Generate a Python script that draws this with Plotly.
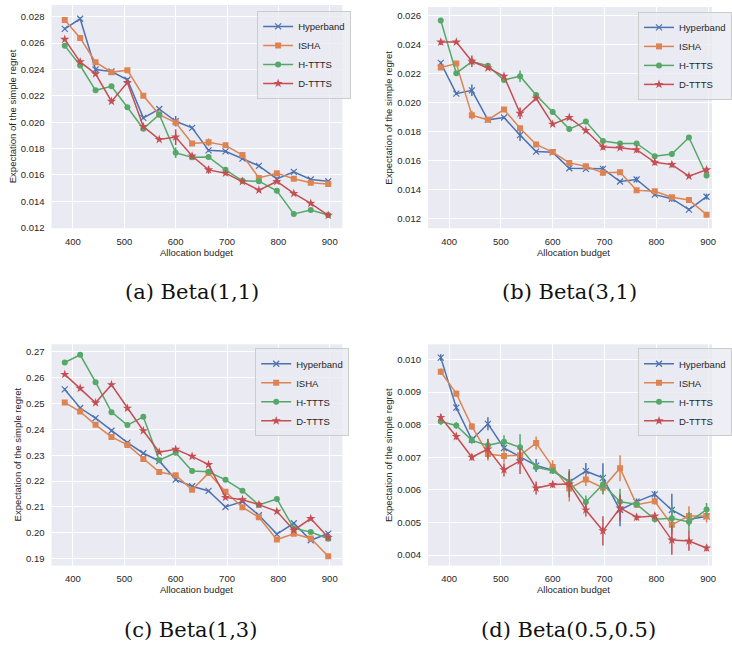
import plotly.graph_objects as go

budget = [384, 414, 444, 475, 506, 537, 568, 600, 632, 664, 697, 730, 762, 797, 830, 863, 897]
methods = ["Hyperband", "ISHA", "H-TTTS", "D-TTTS"]
captions = ["(a) Beta(1,1)", "(b) Beta(3,1)", "(c) Beta(1,3)", "(d) Beta(0.5,0.5)"]

# Panel (a) Beta(1,1)
a_hyperband = [0.02709, 0.02785, 0.02400, 0.02385, 0.02322, 0.02033, 0.02100, 0.02007, 0.01957, 0.01786, 0.01779, 0.01723, 0.01668, 0.01570, 0.01623, 0.01565, 0.01552]
a_isha = [0.02775, 0.02639, 0.02455, 0.02380, 0.02395, 0.02200, 0.02058, 0.01997, 0.01839, 0.01847, 0.01824, 0.01751, 0.01577, 0.01613, 0.01570, 0.01540, 0.01530]
a_httts = [0.02581, 0.02430, 0.02242, 0.02272, 0.02113, 0.01950, 0.02058, 0.01768, 0.01733, 0.01736, 0.01638, 0.01555, 0.01552, 0.01479, 0.01303, 0.01333, 0.01296]
a_dttts = [0.02629, 0.02458, 0.02367, 0.02158, 0.02302, 0.01967, 0.01869, 0.01887, 0.01743, 0.01638, 0.01613, 0.01550, 0.01484, 0.01550, 0.01459, 0.01384, 0.01293]
a_hyperband_err = [0.0001, 0.0001, 0.0001, 0.0001, 0.0001, 0.0001, 0.0001, 0.0004, 0.0001, 0.0001, 0.0001, 0.0001, 0.0001, 0.0001, 0.0001, 0.0001, 0.0001]
a_isha_err = [0.0001, 0.0001, 0.0001, 0.0001, 0.0001, 0.0001, 0.0001, 0.0002, 0.0001, 0.0003, 0.0001, 0.0001, 0.0001, 0.0001, 0.0001, 0.0001, 0.0001]
a_httts_err = [0.0001, 0.0001, 0.0001, 0.0001, 0.0001, 0.0001, 0.0001, 0.0004, 0.0001, 0.0001, 0.0001, 0.0001, 0.0001, 0.0001, 0.0001, 0.0001, 0.0001]
a_dttts_err = [0.0001, 0.0001, 0.0001, 0.0001, 0.0001, 0.0001, 0.0001, 0.0006, 0.0001, 0.0003, 0.0001, 0.0001, 0.0001, 0.0001, 0.0001, 0.0001, 0.0001]

# Panel (b) Beta(3,1)
b_hyperband = [0.02275, 0.02062, 0.02085, 0.01881, 0.01897, 0.01775, 0.01661, 0.01656, 0.01546, 0.01542, 0.01542, 0.01454, 0.01468, 0.01363, 0.01335, 0.01260, 0.01349]
b_isha = [0.02243, 0.02270, 0.01913, 0.01881, 0.01952, 0.01823, 0.01711, 0.01658, 0.01583, 0.01560, 0.01514, 0.01519, 0.01393, 0.01386, 0.01345, 0.01326, 0.01225]
b_httts = [0.02568, 0.02204, 0.02284, 0.02256, 0.02156, 0.02183, 0.02052, 0.01936, 0.01817, 0.01869, 0.01734, 0.01718, 0.01718, 0.01629, 0.01645, 0.01759, 0.01496]
b_dttts = [0.02419, 0.02419, 0.02286, 0.02240, 0.02183, 0.01926, 0.02030, 0.01851, 0.01897, 0.01807, 0.01693, 0.01688, 0.01674, 0.01587, 0.01571, 0.01491, 0.01535]
b_hyperband_err = [0.0001, 0.0001, 0.0004, 0.0001, 0.0001, 0.0004, 0.0001, 0.0001, 0.0001, 0.0001, 0.0002, 0.0001, 0.0002, 0.0001, 0.0002, 0.0001, 0.0002]
b_isha_err = [0.0001, 0.0001, 0.0003, 0.0001, 0.0001, 0.0001, 0.0001, 0.0001, 0.0001, 0.0001, 0.0002, 0.0001, 0.0001, 0.0001, 0.0001, 0.0001, 0.0001]
b_httts_err = [0.0001, 0.0001, 0.0001, 0.0001, 0.0001, 0.0004, 0.0001, 0.0001, 0.0001, 0.0001, 0.0001, 0.0001, 0.0001, 0.0001, 0.0002, 0.0001, 0.0002]
b_dttts_err = [0.0002, 0.0001, 0.0004, 0.0001, 0.0001, 0.0004, 0.0001, 0.0001, 0.0001, 0.0001, 0.0002, 0.0001, 0.0002, 0.0002, 0.0002, 0.0001, 0.0002]

# Panel (c) Beta(1,3)
c_hyperband = [0.2555, 0.2483, 0.2444, 0.2395, 0.2349, 0.2308, 0.2278, 0.2206, 0.2180, 0.2162, 0.2100, 0.2121, 0.2068, 0.1995, 0.2037, 0.1971, 0.1997]
c_isha = [0.2504, 0.2469, 0.2418, 0.2371, 0.2340, 0.2286, 0.2235, 0.2223, 0.2167, 0.2231, 0.2159, 0.2099, 0.2060, 0.1974, 0.1996, 0.1978, 0.1909]
c_httts = [0.2659, 0.2689, 0.2583, 0.2467, 0.2417, 0.2449, 0.2281, 0.2310, 0.2239, 0.2236, 0.2205, 0.2163, 0.2108, 0.2131, 0.2017, 0.2003, 0.1977]
c_dttts = [0.2613, 0.2559, 0.2503, 0.2573, 0.2482, 0.2395, 0.2312, 0.2323, 0.2296, 0.2264, 0.2137, 0.2128, 0.2109, 0.2083, 0.2010, 0.2055, 0.1982]
c_hyperband_err = [0.0005] * 17
c_isha_err = [0.0005] * 17
c_httts_err = [0.0005] * 17
c_dttts_err = [0.0005] * 17

# Panel (d) Beta(0.5,0.5)
d_hyperband = [0.01006, 0.008525, 0.007539, 0.008027, 0.007285, 0.007010, 0.006746, 0.006603, 0.006247, 0.006573, 0.006370, 0.005383, 0.005637, 0.005861, 0.005383, 0.005098, 0.005180]
d_isha = [0.009624, 0.008953, 0.007946, 0.007102, 0.007041, 0.007061, 0.007437, 0.006705, 0.006044, 0.006318, 0.006064, 0.006664, 0.005546, 0.005647, 0.004925, 0.005200, 0.005200]
d_httts = [0.008098, 0.007976, 0.007519, 0.007366, 0.007478, 0.007305, 0.006695, 0.006583, 0.006237, 0.005627, 0.006166, 0.005637, 0.005556, 0.005098, 0.005129, 0.005017, 0.005393]
d_dttts = [0.008220, 0.007640, 0.007000, 0.007254, 0.006613, 0.006888, 0.006054, 0.006166, 0.006176, 0.005383, 0.004742, 0.005444, 0.005159, 0.005200, 0.004457, 0.004427, 0.004213]
d_hyperband_err = [0.0001, 0.0001, 0.0001, 0.0002, 0.0001, 0.0001, 0.0002, 0.0001, 0.0003, 0.00025, 0.00045, 0.0005, 0.0001, 0.0001, 0.0005, 0.0002, 0.0001]
d_isha_err = [0.0001, 0.0001, 0.0001, 0.0002, 0.0002, 0.0002, 0.0002, 0.0002, 0.0004, 0.0002, 0.0002, 0.0004, 0.0001, 0.0001, 0.0003, 0.0003, 0.0002]
d_httts_err = [0.0001, 0.0001, 0.0001, 0.0002, 0.0002, 0.0004, 0.0001, 0.0001, 0.0004, 0.0002, 0.0003, 0.0004, 0.0001, 0.0001, 0.0004, 0.0003, 0.0002]
d_dttts_err = [0.0001, 0.0001, 0.0001, 0.0003, 0.0002, 0.0004, 0.0002, 0.0001, 0.0004, 0.0002, 0.00045, 0.0004, 0.0001, 0.0001, 0.00045, 0.0003, 0.0001]

panels = [
    ([a_hyperband, a_isha, a_httts, a_dttts], [a_hyperband_err, a_isha_err, a_httts_err, a_dttts_err]),
    ([b_hyperband, b_isha, b_httts, b_dttts], [b_hyperband_err, b_isha_err, b_httts_err, b_dttts_err]),
    ([c_hyperband, c_isha, c_httts, c_dttts], [c_hyperband_err, c_isha_err, c_httts_err, c_dttts_err]),
    ([d_hyperband, d_isha, d_httts, d_dttts], [d_hyperband_err, d_isha_err, d_httts_err, d_dttts_err]),
]

colors = ["#4C72B0", "#DD8452", "#55A868", "#C44E52"]
symbols = ["x-thin", "square", "circle", "star"]
msizes = [6, 6, 6, 7]

W, H = 732, 646
def px(x): return x / W
def py(y): return 1 - y / H

# plot-area boxes (left, top, right, bottom) in pixels
boxes = [(53, 5, 352, 230), (440, 7, 732, 230), (53, 347, 352, 570), (440, 347, 732, 570)]
xranges = [[358.3, 924.6], [359.3, 907.5], [358.3, 924.6], [359.3, 907.5]]
yranges = [[0.01195, 0.0289], [0.01131, 0.02662], [0.18731, 0.27295], [0.003675, 0.010468]]
yticks = [
    [0.012, 0.014, 0.016, 0.018, 0.020, 0.022, 0.024, 0.026, 0.028],
    [0.012, 0.014, 0.016, 0.018, 0.020, 0.022, 0.024, 0.026],
    [0.19, 0.20, 0.21, 0.22, 0.23, 0.24, 0.25, 0.26, 0.27],
    [0.004, 0.005, 0.006, 0.007, 0.008, 0.009, 0.010],
]
yfmt = [".3f", ".3f", ".2f", ".3f"]
legend_pos = [(361, 11, "right"), (656, 12, "left"), (359, 351, "right"), (656, 351, "left")]
caption_pos = [(197, 294), (586, 294), (196, 635), (584, 635)]
ytitle_x = [13, 400, 18, 400]

font_family = "Liberation Sans, Arial, sans-serif"
tick_color = "#262626"

fig = go.Figure()
layout = dict(
    width=W, height=H,
    margin=dict(l=0, r=0, t=0, b=0),
    paper_bgcolor="white",
    plot_bgcolor="#EAEAF2",
    font=dict(family=font_family, size=9.5, color=tick_color),
    annotations=[],
)

for p, (series, errs) in enumerate(panels):
    n = p + 1
    xa = "x" if n == 1 else f"x{n}"
    ya = "y" if n == 1 else f"y{n}"
    lg = "legend" if n == 1 else f"legend{n}"
    for k, name in enumerate(methods):
        fig.add_trace(go.Scatter(
            x=budget, y=series[k], name=name, mode="lines+markers",
            xaxis=xa, yaxis=ya, legend=lg,
            line=dict(color=colors[k], width=1.5),
            marker=dict(symbol=symbols[k], size=msizes[k], color=colors[k],
                        line=dict(color=colors[k], width=1.2 if k == 0 else 0)),
            error_y=dict(type="data", array=errs[k], thickness=1.5, width=0, color=colors[k]),
        ))
    l, t, r, b = boxes[p]
    xkey = "xaxis" if n == 1 else f"xaxis{n}"
    ykey = "yaxis" if n == 1 else f"yaxis{n}"
    layout[xkey] = dict(
        domain=[px(l), px(r)], anchor=ya, range=xranges[p],
        tickvals=[400, 500, 600, 700, 800, 900], showgrid=True, gridcolor="white", gridwidth=1,
        zeroline=False, showline=False, ticks="", ticklabelstandoff=6,
        tickfont=dict(size=9.5, color=tick_color),
    )
    layout[ykey] = dict(
        domain=[py(b), py(t)], anchor=xa, range=yranges[p],
        tickvals=yticks[p], tickformat=yfmt[p], showgrid=True, gridcolor="white", gridwidth=1,
        zeroline=False, showline=False, ticks="", ticklabelstandoff=6,
        tickfont=dict(size=9.5, color=tick_color),
    )
    lx, ly, anc = legend_pos[p]
    layout[lg] = dict(
        x=px(lx), y=py(ly), xanchor=anc, yanchor="top",
        bgcolor="rgba(234,234,242,0.8)", bordercolor="#CCCCCC", borderwidth=1,
        font=dict(size=9.5, color=tick_color), tracegroupgap=0, itemwidth=30,
    )
    # x-axis title
    xr = r if p in (0, 2) else 740
    layout["annotations"].append(dict(
        text="Allocation budget", x=px((l + xr) / 2), y=py(b + 24),
        xref="paper", yref="paper", showarrow=False, xanchor="center", yanchor="middle",
        font=dict(size=9.5, color=tick_color, family=font_family),
    ))
    # y-axis title
    layout["annotations"].append(dict(
        text="Expectation of the simple regret", x=px(ytitle_x[p]), y=py((t + b) / 2),
        xref="paper", yref="paper", showarrow=False, textangle=-90, xanchor="center", yanchor="middle",
        font=dict(size=9.5, color=tick_color, family=font_family),
    ))
    cx, cy = caption_pos[p]
    layout["annotations"].append(dict(
        text=captions[p], x=px(cx), y=py(cy), xref="paper", yref="paper", showarrow=False,
        xanchor="center", yanchor="middle",
        font=dict(size=21, color="#111111", family="DejaVu Serif, serif"),
    ))

fig.update_layout(**layout)
fig.write_html("out.html", config={"displayModeBar": False},
               post_script="document.body.style.margin='0';document.body.style.overflow='hidden';")
